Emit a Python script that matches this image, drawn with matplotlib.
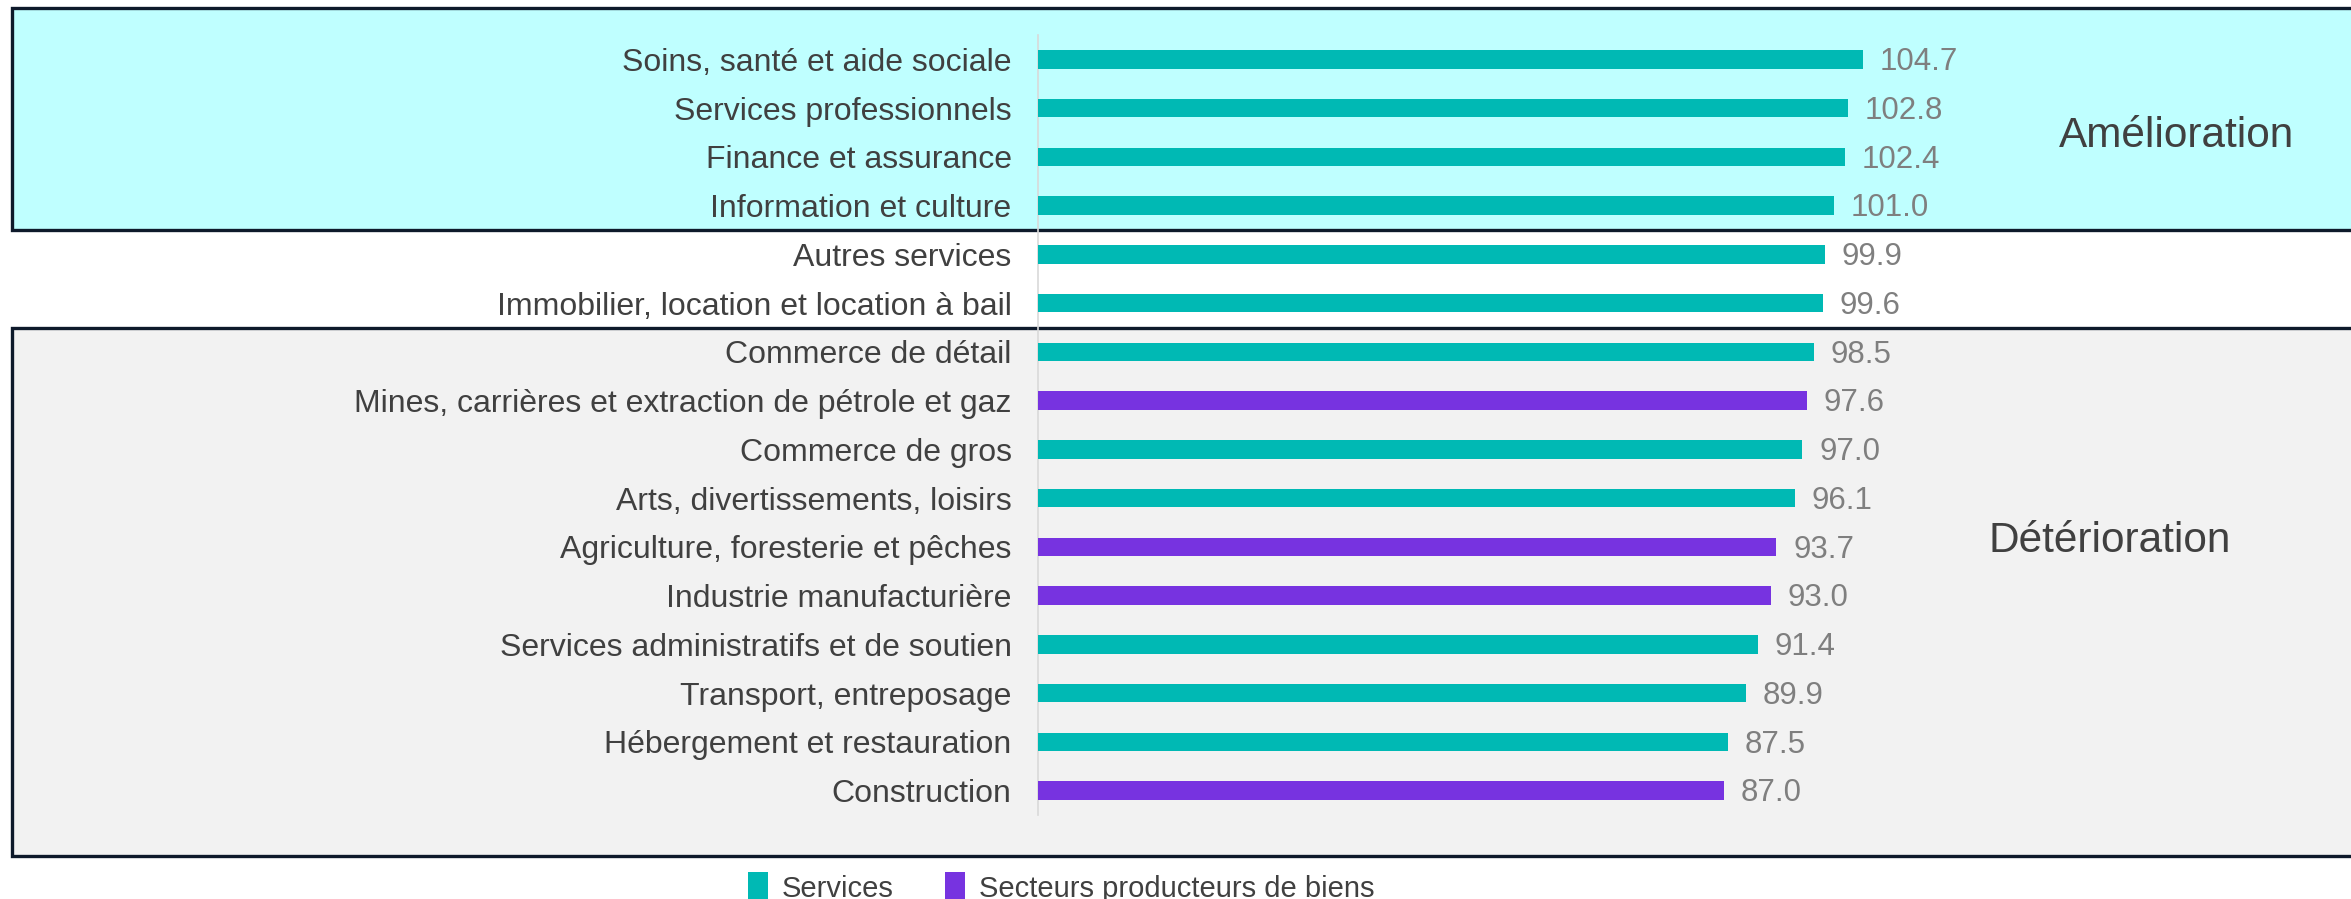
import matplotlib
matplotlib.use("Agg")
import matplotlib.pyplot as plt
from matplotlib.patches import Rectangle, Patch
from matplotlib import transforms

plt.rcParams['font.family'] = ['Liberation Sans', 'DejaVu Sans']

categories = [
    "Soins, santé et aide sociale",
    "Services professionnels",
    "Finance et assurance",
    "Information et culture",
    "Autres services",
    "Immobilier, location et location à bail",
    "Commerce de détail",
    "Mines, carrières et extraction de pétrole et gaz",
    "Commerce de gros",
    "Arts, divertissements, loisirs",
    "Agriculture, foresterie et pêches",
    "Industrie manufacturière",
    "Services administratifs et de soutien",
    "Transport, entreposage",
    "Hébergement et restauration",
    "Construction",
]
values = [104.7, 102.8, 102.4, 101.0, 99.9, 99.6, 98.5, 97.6, 97.0, 96.1,
          93.7, 93.0, 91.4, 89.9, 87.5, 87.0]
sector = ["Services", "Services", "Services", "Services", "Services", "Services",
          "Services", "Biens", "Services", "Services", "Biens", "Biens",
          "Services", "Services", "Services", "Biens"]
legend_labels = ["Services", "Secteurs producteurs de biens"]
zone_labels = ["Amélioration", "Détérioration"]

TEAL = "#00B9B4"
PURPLE = "#7733E0"
colors = [TEAL if s == "Services" else PURPLE for s in sector]

W, H = 2351, 899
fig = plt.figure(figsize=(W / 100, H / 100), dpi=100)
ax = fig.add_axes([1038 / W, 1 - 815 / H, (W - 1038) / W, (815 - 35) / H])
ax.patch.set_visible(False)

ypos = list(range(len(categories)))
bars = ax.barh(ypos, values, height=0.38, color=colors, zorder=3)
ax.set_xlim(0, (W - 1038) / 7.88)
ax.set_ylim(15.5, -0.5)
ax.set_yticks(ypos)
ax.set_yticklabels(categories, fontsize=23, color="#404040")
ax.tick_params(axis='y', length=0, pad=19)
ax.set_xticks([])
for s in ["top", "right", "bottom"]:
    ax.spines[s].set_visible(False)
ax.spines["left"].set_color("#D9D9D9")
ax.spines["left"].set_linewidth(1.2)

lbls = ax.bar_label(bars, labels=[f"{v:.1f}" for v in values], padding=12,
                    fontsize=22.5, color="#7F7F7F")
for t in lbls:
    t.xyann = (t.xyann[0], -2.0)

# zone boxes
tr = transforms.blended_transform_factory(fig.transFigure, ax.transData)
box1 = Rectangle((12 / W, -1.055), 1.1, 3.5 + 1.055, transform=tr,
                 facecolor="#BFFFFF", edgecolor="#0E1A2B", linewidth=2.4, zorder=-2)
box2 = Rectangle((12 / W, 5.5), 1.1, 16.34 - 5.5, transform=tr,
                 facecolor="#F2F2F2", edgecolor="#0E1A2B", linewidth=2.4, zorder=-2)
fig.patches.extend([box1, box2])

t1 = fig.text(2177 / W, 1.57, zone_labels[0], fontsize=30.5,
              color="#404040", ha="center", va="center")
t1.set_transform(tr)
t2 = fig.text(2110 / W, 9.87, zone_labels[1], fontsize=30.5,
              color="#404040", ha="center", va="center")
t2.set_transform(tr)

handles = [Patch(facecolor=TEAL), Patch(facecolor=PURPLE)]
fig.legend(handles, legend_labels, loc="upper center",
           bbox_to_anchor=(1061 / W, 1 - 857 / H), ncol=2, frameon=False,
           fontsize=21, handlelength=0.69, handleheight=1.3,
           handletextpad=0.48, columnspacing=1.75, borderpad=0,
           labelcolor="#404040")

fig.savefig("out.png", dpi=100)
